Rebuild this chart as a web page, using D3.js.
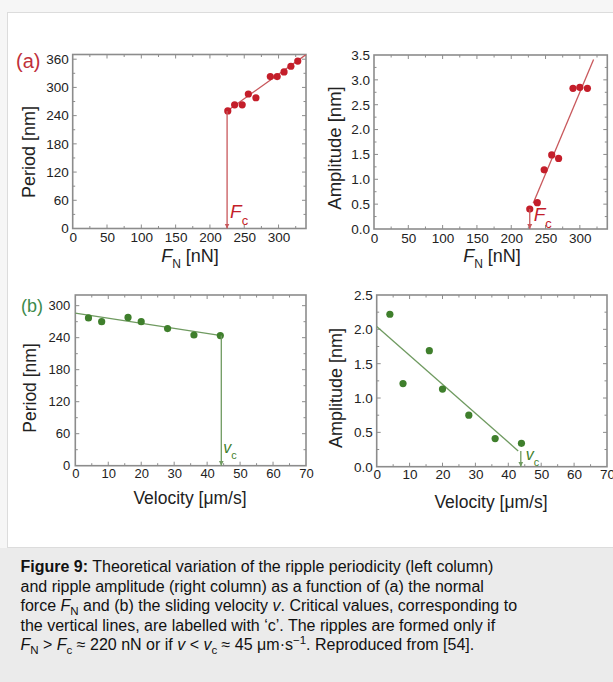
<!DOCTYPE html>
<html>
<head>
<meta charset="utf-8">
<script src="https://cdn.jsdelivr.net/npm/d3@7"></script>
<style>
  html, body { margin: 0; padding: 0; background: #ffffff; }
  svg { display: block; font-family: "Liberation Sans", Arial, sans-serif; }
</style>
</head>
<body>
<svg id="fig" width="613" height="682"></svg>
<script>
// Ripple period / amplitude vs normal force (a) and sliding velocity (b)
const forceForPeriod = [226, 236, 247, 256, 267, 288, 298, 308, 318, 328];     // nN
const periodVsForce  = [250, 263, 263, 286, 278, 323, 323, 333, 345, 356];     // nm
const forceForAmp    = [227, 238, 248, 259, 269, 290, 300, 311];               // nN
const ampVsForce     = [0.40, 0.53, 1.19, 1.49, 1.42, 2.83, 2.85, 2.83];       // nm
const velocity       = [4, 8, 16, 20, 28, 36, 44];                             // um/s
const periodVsVel    = [277, 270, 278, 270, 257, 245, 244];                    // nm
const ampVsVel       = [2.22, 1.21, 1.69, 1.13, 0.75, 0.41, 0.34];             // nm

// theory lines: [x, y] end points, and critical values
const periodForceFit = [[225, 250], [345, 375]];
const ampForceFit    = [[232, 0.52], [320, 3.41]];
const periodVelFit   = [[0, 286], [44.3, 244]];
const ampVelFit      = [[0, 2.04], [43, 0.23]];
const forceCritical  = [225, 227];    // period panel, amplitude panel
const velCritical    = [44.3, 43.8];

// tick values
const forceTicks   = [0, 50, 100, 150, 200, 250, 300];
const periodTicksA = [0, 60, 120, 180, 240, 300, 360];
const ampTicksA    = [0, 0.5, 1.0, 1.5, 2.0, 2.5, 3.0, 3.5];
const velTicks     = [0, 10, 20, 30, 40, 50, 60, 70];
const periodTicksB = [0, 60, 120, 180, 240, 300];
const ampTicksB    = [0, 0.5, 1.0, 1.5, 2.0, 2.5];

const RED = "#c41e2a", RED_LINE = "#c8585c";
const GREEN = "#3f7f2c", GREEN_LINE = "#6f9a60";
const FRAME = "#8c8c8c", TXT = "#222222";

const svg = d3.select("#fig");

// page frame and caption box
svg.append("rect").attr("x", 0).attr("y", 0).attr("width", 613).attr("height", 682).attr("fill", "#f6f6f6");
svg.append("rect").attr("x", 7.5).attr("y", 12.5).attr("width", 620).attr("height", 535)
  .attr("fill", "#ffffff").attr("stroke", "#dcdcdc").attr("stroke-width", 1);
svg.append("rect").attr("x", 0).attr("y", 548).attr("width", 613).attr("height", 134).attr("fill", "#ebebeb");

const defs = svg.append("defs");
function arrowMarker(id, color) {
  defs.append("marker").attr("id", id).attr("viewBox", "0 0 10 10")
    .attr("refX", 10).attr("refY", 5).attr("markerWidth", 5).attr("markerHeight", 7)
    .attr("markerUnits", "userSpaceOnUse").attr("orient", "auto")
    .append("path").attr("d", "M0,0 L10,5 L0,10 Z").attr("fill", color);
}
arrowMarker("arrR", RED_LINE);
arrowMarker("arrG", GREEN_LINE);

function panel(cfg) {
  const x = d3.scaleLinear().domain(cfg.xDomain).range([cfg.left, cfg.right]);
  const y = d3.scaleLinear().domain(cfg.yDomain).range([cfg.bottom, cfg.top]);
  const g = svg.append("g");
  const clipId = "clip" + cfg.id;
  defs.append("clipPath").attr("id", clipId).append("rect")
    .attr("x", cfg.left).attr("y", cfg.top).attr("width", cfg.right - cfg.left).attr("height", cfg.bottom - cfg.top);

  const xMinor = d3.range(cfg.xDomain[0], cfg.xDomain[1] + 1e-9, cfg.xMinorStep).filter(v => v > cfg.xDomain[0] && v < cfg.xDomain[1]);
  const yMinor = d3.range(cfg.yDomain[0], cfg.yDomain[1] + 1e-9, cfg.yMinorStep).filter(v => v > cfg.yDomain[0] && v < cfg.yDomain[1]);

  // inward tick marks on all four sides
  const tickLen = v => (cfg.xTicks.some(t => Math.abs(t - v) < 1e-9) ? 4 : 2.5);
  const tickLenY = v => (cfg.yTicks.some(t => Math.abs(t - v) < 1e-9) ? 4 : 2.5);
  const ticks = g.append("g").attr("stroke", FRAME).attr("stroke-width", 1);
  xMinor.forEach(v => {
    ticks.append("line").attr("x1", x(v)).attr("x2", x(v)).attr("y1", cfg.bottom).attr("y2", cfg.bottom - tickLen(v));
    ticks.append("line").attr("x1", x(v)).attr("x2", x(v)).attr("y1", cfg.top).attr("y2", cfg.top + tickLen(v));
  });
  yMinor.forEach(v => {
    ticks.append("line").attr("y1", y(v)).attr("y2", y(v)).attr("x1", cfg.left).attr("x2", cfg.left + tickLenY(v));
    ticks.append("line").attr("y1", y(v)).attr("y2", y(v)).attr("x1", cfg.right).attr("x2", cfg.right - tickLenY(v));
  });

  // axes with labels only (tick marks drawn above)
  const xAxis = d3.axisBottom(x).tickValues(cfg.xTicks).tickSize(0).tickPadding(cfg.xPad).tickFormat(cfg.xFmt);
  const yAxis = d3.axisLeft(y).tickValues(cfg.yTicks).tickSize(0).tickPadding(cfg.yPad).tickFormat(cfg.yFmt);
  const gx = g.append("g").attr("transform", `translate(0,${cfg.bottom})`).call(xAxis);
  const gy = g.append("g").attr("transform", `translate(${cfg.left},0)`).call(yAxis);
  [gx, gy].forEach(a => {
    a.select(".domain").remove();
    a.selectAll("text").attr("fill", TXT).style("font-size", cfg.tickFont + "px")
      .style("font-family", "'Liberation Sans', Arial, sans-serif");
  });

  g.append("rect").attr("x", cfg.left).attr("y", cfg.top)
    .attr("width", cfg.right - cfg.left).attr("height", cfg.bottom - cfg.top)
    .attr("fill", "none").attr("stroke", FRAME).attr("stroke-width", 1.6);

  const plot = g.append("g").attr("clip-path", `url(#${clipId})`);
  const line = d3.line().x(d => x(d[0])).y(d => y(d[1]));
  plot.append("path").attr("d", line(cfg.fit)).attr("fill", "none")
    .attr("stroke", cfg.lineColor).attr("stroke-width", 1.3);

  // critical value marker: vertical line down to the axis with arrow head
  g.append("line").attr("x1", x(cfg.crit)).attr("x2", x(cfg.crit))
    .attr("y1", y(cfg.critTop)).attr("y2", y(0))
    .attr("stroke", cfg.lineColor).attr("stroke-width", 1.3)
    .attr("marker-end", `url(#${cfg.marker})`);

  plot.selectAll("circle.pt").data(cfg.xs.map((v, i) => [v, cfg.ys[i]])).join("circle")
    .attr("class", "pt").attr("cx", d => x(d[0])).attr("cy", d => y(d[1]))
    .attr("r", 3.6).attr("fill", cfg.pointColor);

  // critical label
  const lab = g.append("text").attr("x", x(cfg.crit) + cfg.critDx).attr("y", cfg.critY)
    .attr("fill", cfg.pointColor).style("font-size", cfg.critFont + "px");
  lab.append("tspan").style("font-style", "italic").text(cfg.critSym);
  lab.append("tspan").attr("dy", cfg.critFont * 0.35).style("font-size", (cfg.critFont * 0.68) + "px").text("c");

  // axis titles
  const xt = g.append("text").attr("x", cfg.xTitleX).attr("y", cfg.xTitleY)
    .attr("text-anchor", "middle").attr("fill", TXT).style("font-size", cfg.titleFont + "px");
  cfg.xTitle(xt);
  g.append("text").attr("transform", `translate(${cfg.yTitleX},${cfg.yTitleY}) rotate(-90)`)
    .attr("text-anchor", "middle").attr("fill", TXT).style("font-size", cfg.yTitleFont + "px")
    .text(cfg.yTitle);
  return { x, y };
}

const forceTitle = t => {
  t.append("tspan").style("font-style", "italic").text("F");
  t.append("tspan").attr("dy", 6).style("font-size", "12px").text("N");
  t.append("tspan").attr("dy", -6).text(" [nN]");
};
const velTitle = t => t.text("Velocity [\u03bcm/s]");
const fmt0 = d3.format("d"), fmt1 = d3.format(".1f");

panel({ id: "A1", left: 72.7, right: 306, top: 54.5, bottom: 228.5,
  xDomain: [0, 340], yDomain: [0, 370], xTicks: forceTicks, yTicks: periodTicksA,
  xMinorStep: 25, yMinorStep: 30, xFmt: fmt0, yFmt: fmt0, xPad: 4, yPad: 4, tickFont: 13.5,
  xs: forceForPeriod, ys: periodVsForce, fit: periodForceFit,
  crit: forceCritical[0], critTop: 250, critSym: "F", critDx: 3, critY: 218, critFont: 19, marker: "arrR",
  lineColor: RED_LINE, pointColor: RED,
  xTitle: forceTitle, xTitleX: 190, xTitleY: 262, titleFont: 18,
  yTitle: "Period [nm]", yTitleX: 35, yTitleY: 152, yTitleFont: 18 });

panel({ id: "A2", left: 374, right: 607.3, top: 55, bottom: 229,
  xDomain: [0, 340], yDomain: [0, 3.5], xTicks: forceTicks, yTicks: ampTicksA,
  xMinorStep: 25, yMinorStep: 0.25, xFmt: fmt0, yFmt: fmt1, xPad: 4, yPad: 4, tickFont: 13.5,
  xs: forceForAmp, ys: ampVsForce, fit: ampForceFit,
  crit: forceCritical[1], critTop: 0.40, critSym: "F", critDx: 4, critY: 221, critFont: 19, marker: "arrR",
  lineColor: RED_LINE, pointColor: RED,
  xTitle: forceTitle, xTitleX: 492, xTitleY: 262, titleFont: 18,
  yTitle: "Amplitude [nm]", yTitleX: 341, yTitleY: 148, yTitleFont: 18.5 });

panel({ id: "B1", left: 75.3, right: 306, top: 295, bottom: 465.7,
  xDomain: [0, 70], yDomain: [0, 320], xTicks: velTicks, yTicks: periodTicksB,
  xMinorStep: 5, yMinorStep: 30, xFmt: fmt0, yFmt: fmt0, xPad: 3, yPad: 5, tickFont: 13,
  xs: velocity, ys: periodVsVel, fit: periodVelFit,
  crit: velCritical[0], critTop: 244, critSym: "v", critDx: 2, critY: 453, critFont: 16, marker: "arrG",
  lineColor: GREEN_LINE, pointColor: GREEN,
  xTitle: velTitle, xTitleX: 190, xTitleY: 503.5, titleFont: 17.5,
  yTitle: "Period [nm]", yTitleX: 36, yTitleY: 388, yTitleFont: 17.5 });

panel({ id: "B2", left: 376.7, right: 607, top: 295, bottom: 466.7,
  xDomain: [0, 70], yDomain: [0, 2.5], xTicks: velTicks, yTicks: ampTicksB,
  xMinorStep: 5, yMinorStep: 0.25, xFmt: fmt0, yFmt: fmt1, xPad: 3, yPad: 4, tickFont: 13.5,
  xs: velocity, ys: ampVsVel, fit: ampVelFit,
  crit: velCritical[1], critTop: 0.23, critSym: "v", critDx: 5, critY: 460, critFont: 16, marker: "arrG",
  lineColor: GREEN_LINE, pointColor: GREEN,
  xTitle: velTitle, xTitleX: 491, xTitleY: 508, titleFont: 17.5,
  yTitle: "Amplitude [nm]", yTitleX: 342, yTitleY: 388, yTitleFont: 18 });

// panel letters
svg.append("text").attr("x", 16).attr("y", 68).attr("fill", "#c0303a").style("font-size", "20px").text("(a)");
svg.append("text").attr("x", 21).attr("y", 312).attr("fill", "#3c8a4c").style("font-size", "18px").text("(b)");

// caption
const cap = svg.append("g").attr("fill", "#111").style("font-size", "16px");
const lines = [
  [["b", "Figure 9:"], ["", " Theoretical variation of the ripple periodicity (left column)"]],
  [["", "and ripple amplitude (right column) as a function of (a) the normal"]],
  [["", "force "], ["i", "F"], ["sub", "N"], ["", " and (b) the sliding velocity "], ["i", "v"], ["", ". Critical values, corresponding to"]],
  [["", "the vertical lines, are labelled with \u2018c\u2019. The ripples are formed only if"]],
  [["i", "F"], ["sub", "N"], ["", " > "], ["i", "F"], ["sub", "c"], ["", " \u2248 220 nN or if "], ["i", "v"], ["", " < "], ["i", "v"], ["sub", "c"],
   ["", " \u2248 45 \u03bcm\u00b7s"], ["sup", "\u22121"], ["", ". Reproduced from [54]."]]
];
lines.forEach((parts, i) => {
  const t = cap.append("text").attr("x", 20.5).attr("y", 572 + i * 19.6);
  let shift = 0;
  parts.forEach(([kind, str]) => {
    const s = t.append("tspan").text(str);
    let want = 0;
    if (kind === "b") s.style("font-weight", "bold");
    if (kind === "i") s.style("font-style", "italic");
    if (kind === "sub") { s.style("font-size", "11.5px"); want = 4; }
    if (kind === "sup") { s.style("font-size", "11.5px"); want = -6; }
    if (want !== shift) { s.attr("dy", want - shift); shift = want; }
  });
});
</script>
</body>
</html>
